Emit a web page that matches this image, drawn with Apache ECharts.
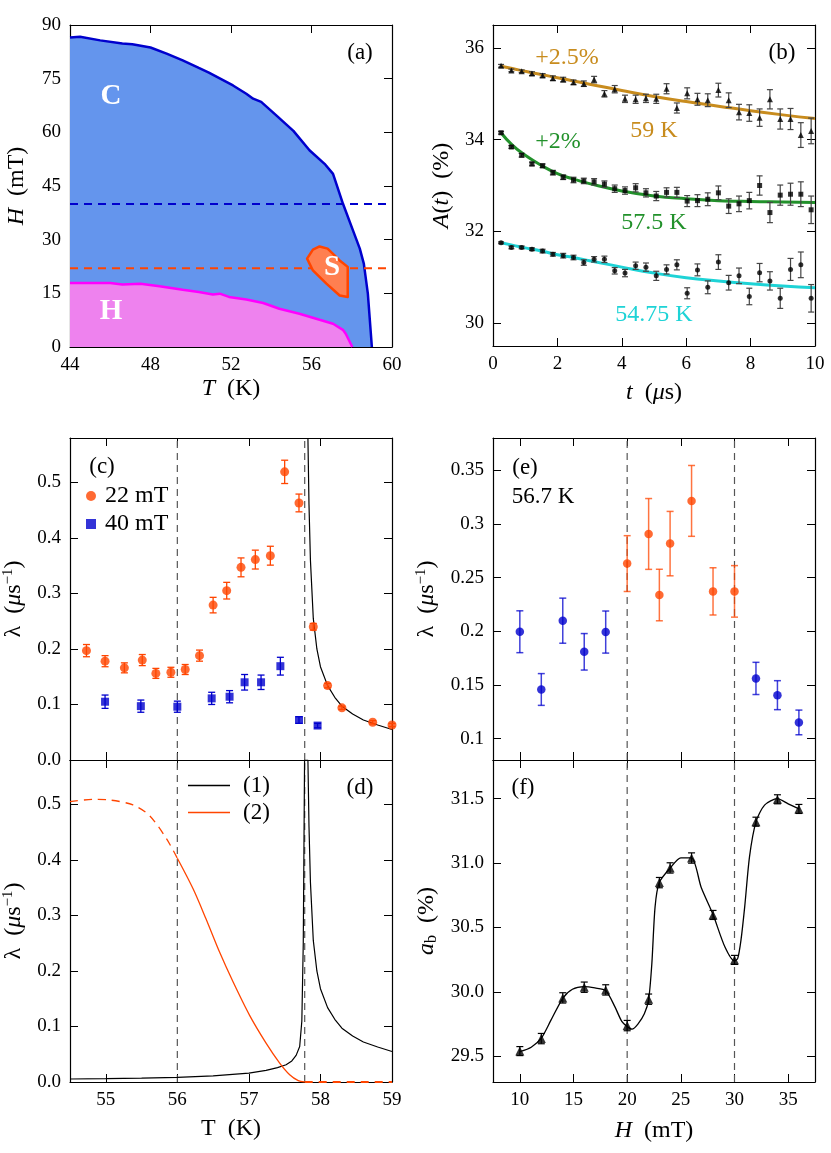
<!DOCTYPE html>
<html>
<head>
<meta charset="utf-8">
<script src="https://cdn.jsdelivr.net/npm/echarts@6.0.0/dist/echarts.min.js"></script>
<style>
  html, body { margin: 0; padding: 0; background: #fff; }
  #chart { width: 831px; height: 1153px; }
</style>
</head>
<body>
<div id="chart"></div>
<script>
// ---- (a) phase diagram ----
const cBoundaryT = [44, 44.5, 45.5, 46.6, 47.1, 48.0, 48.8, 49.6, 50.4, 50.9, 52.1, 52.76, 53.1, 53.5, 54.25, 55.1, 55.9, 56.65, 57.07, 57.56, 58.06, 58.4, 58.6, 58.8, 59.0];
const cBoundaryH = [86.5, 86.7, 85.7, 84.8, 84.6, 83.7, 82.0, 80.1, 78.0, 76.7, 73.1, 70.8, 69.4, 68.5, 64.75, 60.4, 55.0, 51.2, 48.4, 40.1, 32.6, 27.5, 23.3, 14.9, 0];
const hBoundaryT = [44, 46.0, 46.6, 47.5, 48.45, 49.6, 50.4, 51.1, 51.44, 51.9, 52.76, 53.6, 54.4, 55.4, 56.4, 57.07, 57.56, 57.7, 58.03];
const hBoundaryH = [17.9, 17.9, 17.5, 17.7, 17.0, 16.0, 15.4, 14.7, 14.9, 14.0, 13.3, 12.3, 10.7, 9.3, 7.6, 6.5, 4.8, 3.7, 0];
const sPhaseT = [55.78, 56.07, 56.4, 56.8, 57.4, 57.8, 57.8, 57.4, 56.74, 56.07];
const sPhaseH = [24.7, 27.2, 28.1, 27.5, 24.2, 22.4, 14.0, 14.4, 17.7, 21.4];
const scanFields = [40, 22];

// ---- (b) asymmetry spectra ----
const tTimes = [0.25, 0.57, 0.89, 1.21, 1.54, 1.86, 2.18, 2.5, 2.82, 3.14, 3.46, 3.78, 4.1, 4.43, 4.75, 5.07, 5.39, 5.71, 6.03, 6.35, 6.67, 7.0, 7.32, 7.64, 7.96, 8.28, 8.6, 8.92, 9.24, 9.56, 9.88];
const a59 = [35.61, 35.51, 35.49, 35.44, 35.40, 35.34, 35.31, 35.25, 35.22, 35.31, 35.00, 35.10, 34.89, 34.88, 34.90, 34.89, 35.11, 34.69, 35.01, 34.88, 34.86, 35.08, 34.86, 34.60, 34.58, 34.48, 34.88, 34.45, 34.45, 34.10, 34.19];
const e59 = [0.03, 0.03, 0.03, 0.04, 0.04, 0.05, 0.05, 0.05, 0.06, 0.07, 0.07, 0.08, 0.08, 0.09, 0.09, 0.1, 0.11, 0.11, 0.12, 0.13, 0.14, 0.15, 0.16, 0.17, 0.18, 0.19, 0.21, 0.22, 0.23, 0.27, 0.28];
const a575 = [34.15, 33.84, 33.66, 33.47, 33.43, 33.28, 33.18, 33.12, 33.10, 33.08, 33.03, 32.93, 32.89, 32.95, 32.84, 32.77, 32.85, 32.85, 32.66, 32.67, 32.70, 32.84, 32.55, 32.60, 32.67, 33.00, 32.41, 32.79, 32.81, 32.81, 32.47];
const e575 = [0.03, 0.03, 0.04, 0.04, 0.04, 0.05, 0.05, 0.06, 0.06, 0.07, 0.07, 0.08, 0.08, 0.09, 0.09, 0.1, 0.1, 0.11, 0.12, 0.13, 0.14, 0.15, 0.16, 0.17, 0.18, 0.21, 0.22, 0.22, 0.24, 0.27, 0.3];
const a5475 = [31.75, 31.65, 31.65, 31.61, 31.57, 31.50, 31.47, 31.43, 31.32, 31.39, 31.39, 31.14, 31.09, 31.25, 31.22, 31.03, 31.17, 31.27, 30.65, 31.16, 30.78, 31.33, 30.88, 31.03, 30.58, 31.10, 30.92, 30.54, 31.17, 31.27, 30.54];
const e5475 = [0.02, 0.03, 0.03, 0.03, 0.04, 0.04, 0.05, 0.05, 0.06, 0.06, 0.07, 0.07, 0.08, 0.08, 0.09, 0.1, 0.1, 0.11, 0.12, 0.13, 0.14, 0.16, 0.16, 0.17, 0.18, 0.2, 0.2, 0.22, 0.24, 0.28, 0.3];
const fitT = [0.25, 0.6, 1, 1.5, 2, 2.5, 3, 4, 5, 6, 7, 8, 9, 10];
const fit59 = [35.60, 35.55, 35.49, 35.42, 35.35, 35.28, 35.21, 35.07, 34.94, 34.83, 34.73, 34.63, 34.54, 34.46];
const fit575 = [34.15, 33.88, 33.66, 33.44, 33.26, 33.14, 33.04, 32.88, 32.77, 32.71, 32.67, 32.65, 32.64, 32.63];
const fit5475 = [31.75, 31.70, 31.64, 31.57, 31.49, 31.43, 31.36, 31.22, 31.09, 30.99, 30.92, 30.86, 30.81, 30.77];

// ---- (c) relaxation rate vs T ----
const cT22 = [54.73, 54.99, 55.26, 55.51, 55.70, 55.91, 56.11, 56.31, 56.50, 56.69, 56.89, 57.09, 57.30, 57.50, 57.70, 57.90, 58.10, 58.30, 58.73, 59.0];
const cL22 = [0.197, 0.178, 0.166, 0.180, 0.156, 0.158, 0.163, 0.188, 0.279, 0.305, 0.347, 0.361, 0.368, 0.519, 0.463, 0.240, 0.134, 0.094, 0.068, 0.063];
const cE22 = [0.011, 0.01, 0.009, 0.01, 0.009, 0.009, 0.009, 0.01, 0.014, 0.015, 0.017, 0.017, 0.017, 0.021, 0.016, 0.006, 0.004, 0.003, 0.003, 0.003];
const cT40 = [54.99, 55.49, 56.0, 56.48, 56.73, 56.94, 57.17, 57.44, 57.70, 57.96];
const cL40 = [0.105, 0.097, 0.096, 0.111, 0.114, 0.140, 0.140, 0.169, 0.072, 0.062];
const cE40 = [0.012, 0.011, 0.01, 0.011, 0.011, 0.014, 0.013, 0.016, 0.006, 0.004];
const refTemps = [56.0, 57.78];

// ---- (d) model curves ----
const curveLeftT = [54.5, 55, 55.5, 56, 56.5, 57, 57.24, 57.4, 57.52, 57.6, 57.66, 57.71, 57.74, 57.76, 57.778];
const curveLeftL = [0.0054, 0.006, 0.007, 0.0084, 0.011, 0.016, 0.021, 0.026, 0.031, 0.038, 0.048, 0.064, 0.11, 0.25, 0.58];
const curveRightT = [57.825, 57.84, 57.86, 57.9, 57.95, 58.0, 58.1, 58.2, 58.3, 58.45, 58.6, 58.8, 59.0];
const curveRightL = [0.58, 0.46, 0.36, 0.255, 0.2, 0.168, 0.134, 0.113, 0.097, 0.083, 0.072, 0.063, 0.055];
const orangeDashT = [54.5, 54.82, 55.05, 55.38, 55.61, 55.85, 56.0];
const orangeDashL = [0.505, 0.509, 0.508, 0.499, 0.480, 0.438, 0.403];
const orangeSolidT = [56.0, 56.22, 56.40, 56.59, 56.78, 57.01, 57.24, 57.43, 57.57, 57.69, 57.78];
const orangeSolidL = [0.403, 0.348, 0.294, 0.234, 0.180, 0.120, 0.070, 0.034, 0.013, 0.0024, 0];
const orangeZeroT = [57.78, 59];
const orangeZeroL = [0, 0];

// ---- (e) relaxation rate vs H ----
const eHBlue = [10, 12, 14, 16, 18, 32, 34, 36];
const eLBlue = [0.1995, 0.1457, 0.2098, 0.1808, 0.1992, 0.156, 0.1404, 0.115];
const eEBlue = [0.0195, 0.0148, 0.021, 0.017, 0.0196, 0.015, 0.0135, 0.0115];
const eHOrange = [20, 22, 23, 24, 26, 28, 30];
const eLOrange = [0.263, 0.2906, 0.2337, 0.2816, 0.3214, 0.2371, 0.2371];
const eEOrange = [0.026, 0.033, 0.024, 0.030, 0.033, 0.022, 0.024];
const refFields = [20, 30];

// ---- (f) background asymmetry ----
const fH = [10, 12, 14, 16, 18, 20, 22, 23, 24, 26, 28, 30, 32, 34, 36];
const fA = [29.54, 29.637, 29.953, 30.036, 30.015, 29.738, 29.943, 30.848, 30.962, 31.039, 30.597, 30.248, 31.321, 31.495, 31.42];
const fE = [0.035, 0.04, 0.04, 0.04, 0.04, 0.04, 0.04, 0.04, 0.04, 0.04, 0.035, 0.035, 0.035, 0.035, 0.035];
const fCurveH = [10, 11.06, 12, 12.9, 14, 14.9, 16, 17, 18, 18.85, 19.5, 20, 20.45, 21, 21.6, 22, 22.3, 22.6, 23, 24, 25, 26, 26.9, 28, 29.1, 30, 30.3, 30.6, 30.95, 31.4, 32, 32.8, 34, 35, 36];
const fCurveA = [29.535, 29.57, 29.64, 29.78, 29.95, 30.02, 30.04, 30.03, 30.01, 29.885, 29.77, 29.73, 29.71, 29.75, 29.83, 29.94, 30.22, 30.66, 30.85, 30.96, 31.04, 31.04, 30.81, 30.60, 30.35, 30.24, 30.26, 30.40, 30.66, 31.05, 31.32, 31.45, 31.50, 31.46, 31.42];

// ---- ticks ----
const ticksAx = [44, 48, 52, 56, 60], ticksAy = [0, 15, 30, 45, 60, 75, 90];
const ticksBx = [0, 2, 4, 6, 8, 10], ticksBy = [30, 32, 34, 36];
const ticksCDx = [55, 56, 57, 58, 59], ticksCDy = [0, 0.1, 0.2, 0.3, 0.4, 0.5];
const ticksEFx = [10, 15, 20, 25, 30, 35];
const ticksEy = [0.1, 0.15, 0.2, 0.25, 0.3, 0.35], ticksFy = [29.5, 30, 30.5, 31, 31.5];

const FONT = 'Liberation Serif';
const BLUE = '#0000CD', ORANGE = '#FF4500', GOLD = '#C88C1E', GREEN = '#22912B', CYAN = '#1ED3D6';
const SP = '\u2002';
const pts = (xs, ys) => xs.map((x, i) => [x, ys[i]]);

const rich = {
  i: { fontStyle: 'italic', fontFamily: FONT, fontSize: 24 },
  sup: { fontFamily: FONT, fontSize: 15, verticalAlign: 'top' },
  sub: { fontFamily: FONT, fontSize: 16, verticalAlign: 'bottom' }
};

function axes(dir, g, min, max, ticks, fmt, name, gap) {
  const common = {
    type: 'value', gridIndex: g, min: min, max: max,
    axisLine: { show: true, onZero: false, lineStyle: { color: '#000', width: 1.2 } },
    axisTick: { show: true, inside: true, length: 8, customValues: ticks, lineStyle: { color: '#000', width: 1 } },
    splitLine: { show: false }
  };
  const main = Object.assign({}, common, {
    position: dir === 'x' ? 'bottom' : 'left',
    axisLabel: fmt ? { show: true, customValues: ticks, formatter: fmt, margin: 9, color: '#000', fontFamily: FONT, fontSize: 19 } : { show: false },
    name: name || '', nameLocation: 'middle', nameGap: gap || 0,
    nameTextStyle: { fontFamily: FONT, fontSize: 24, color: '#000', lineHeight: 26, rich: rich }
  });
  const mirror = Object.assign({}, common, {
    position: dir === 'x' ? 'top' : 'right',
    axisLabel: { show: false }
  });
  return [main, mirror];
}

const str = v => String(v), fix1 = v => v.toFixed(1);
const lamName = 'λ' + SP + '({i|μ}s{sup|−1})';

const xAxis = [].concat(
  axes('x', 0, 44, 60, ticksAx, str, '{i|T}' + SP + '(K)', 28),
  axes('x', 1, 0, 10, ticksBx, str, '{i|t}' + SP + '({i|μ}s)', 34),
  axes('x', 2, 54.5, 59, ticksCDx, null),
  axes('x', 3, 54.5, 59, ticksCDx, str, 'T' + SP + '(K)', 34),
  axes('x', 4, 7.5, 37.5, ticksEFx, null),
  axes('x', 5, 7.5, 37.5, ticksEFx, str, '{i|H}' + SP + '(mT)', 36)
);
const yAxis = [].concat(
  axes('y', 0, 0, 90, ticksAy, str, '{i|H}' + SP + '(mT)', 40),
  axes('y', 1, 29.5, 36.5, ticksBy, str, '{i|A}({i|t})' + SP + '(%)', 38),
  axes('y', 2, 0, 0.58, ticksCDy, fix1, lamName, 43),
  axes('y', 3, 0, 0.58, ticksCDy, fix1, lamName, 43),
  axes('y', 4, 0.08, 0.38, ticksEy, str, lamName, 53),
  axes('y', 5, 29.3, 31.8, ticksFy, fix1, '{i|a}{sub|b}' + SP + '(%)', 53)
);

function errorBars(g, xs, ys, es, color, cap, width, opacity) {
  return {
    type: 'custom', xAxisIndex: 2 * g, yAxisIndex: 2 * g, silent: true, z: 3,
    data: xs.map((x, i) => [x, ys[i], es[i]]),
    encode: { x: 0, y: 1 },
    renderItem: function (params, api) {
      const x = api.value(0), y = api.value(1), e = api.value(2);
      const lo = api.coord([x, y - e]), hi = api.coord([x, y + e]);
      const st = { stroke: color, lineWidth: width, opacity: opacity || 1 };
      return {
        type: 'group', children: [
          { type: 'line', shape: { x1: lo[0], y1: lo[1], x2: hi[0], y2: hi[1] }, style: st },
          { type: 'line', shape: { x1: lo[0] - cap, y1: lo[1], x2: lo[0] + cap, y2: lo[1] }, style: st },
          { type: 'line', shape: { x1: hi[0] - cap, y1: hi[1], x2: hi[0] + cap, y2: hi[1] }, style: st }
        ]
      };
    }
  };
}
function dots(g, name, xs, ys, symbol, size, color) {
  return { type: 'scatter', name: name, xAxisIndex: 2 * g, yAxisIndex: 2 * g, data: pts(xs, ys),
    symbol: symbol, symbolSize: size, itemStyle: { color: color }, z: 4, silent: true };
}
function curve(g, name, xs, ys, color, width, dash, smooth, extra) {
  return Object.assign({ type: 'line', name: name, xAxisIndex: 2 * g, yAxisIndex: 2 * g, data: pts(xs, ys),
    symbol: 'none', showSymbol: false, smooth: smooth || false, silent: true,
    itemStyle: { color: color },
    lineStyle: { color: color, width: width, type: dash || 'solid' }, z: 2 }, extra || {});
}
function vLines(g, xs, yMin, yMax) {
  return xs.map(x => curve(g, '', [x, x], [yMin, yMax], '#555', 1.2, [7, 5]));
}

const series = [
  // (a)
  curve(0, 'C', cBoundaryT, cBoundaryH, BLUE, 2.5, null, false, { areaStyle: { color: '#6495ED', opacity: 1, origin: 'start' }, z: 1 }),
  curve(0, 'Hph', hBoundaryT, hBoundaryH, '#FF00FF', 2.5, null, false, { areaStyle: { color: '#EE82EE', opacity: 1, origin: 'start' }, z: 1 }),
  curve(0, '', [44, 60], [scanFields[0], scanFields[0]], BLUE, 2, [8, 6]),
  curve(0, '', [44, 60], [scanFields[1], scanFields[1]], ORANGE, 2, [8, 6]),
  {
    type: 'custom', xAxisIndex: 0, yAxisIndex: 0, silent: true, z: 3,
    data: [[sPhaseT[0], sPhaseH[0]]], encode: { x: 0, y: 1 },
    renderItem: function (params, api) {
      return { type: 'polygon', shape: { points: sPhaseT.map((t, i) => api.coord([t, sPhaseH[i]])) },
        style: { fill: '#FF7F50', stroke: ORANGE, lineWidth: 2.5, lineJoin: 'round' } };
    }
  },
  // (b)
  curve(1, '', fitT, fit59, GOLD, 3, null, true),
  curve(1, '', fitT, fit575, GREEN, 3, null, true),
  curve(1, '', fitT, fit5475, CYAN, 3, null, true),
  errorBars(1, tTimes, a59, e59, '#444', 3, 1.2),
  errorBars(1, tTimes, a575, e575, '#444', 3, 1.2),
  errorBars(1, tTimes, a5475, e5475, '#444', 3, 1.2),
  dots(1, '', tTimes, a59, 'triangle', 6, '#000'),
  dots(1, '', tTimes, a575, 'rect', 5, '#000'),
  dots(1, '', tTimes, a5475, 'circle', 5, '#000'),
  // (c)
  ...vLines(2, refTemps, 0, 0.58),
  curve(2, 'fit', curveRightT, curveRightL, '#000', 1.2),
  errorBars(2, cT22, cL22, cE22, ORANGE, 3.5, 1.3),
  errorBars(2, cT40, cL40, cE40, BLUE, 3.5, 1.3),
  dots(2, '22 mT', cT22, cL22, 'circle', 9, ORANGE),
  dots(2, '40 mT', cT40, cL40, 'rect', 8, BLUE),
  // (d)
  ...vLines(3, refTemps, 0, 0.58),
  curve(3, '(1)', curveLeftT.concat(curveRightT), curveLeftL.concat(curveRightL), '#000', 1.2),
  curve(3, 'o-dash', orangeDashT, orangeDashL, ORANGE, 1.3, [8, 6], 0.3),
  curve(3, '(2)', orangeSolidT, orangeSolidL, ORANGE, 1.3, null, 0.3),
  curve(3, 'o-zero', orangeZeroT, orangeZeroL, ORANGE, 1.8, [8, 6], false, { clip: false, z: 5 }),
  // (e)
  ...vLines(4, refFields, 0.08, 0.38),
  errorBars(4, eHBlue, eLBlue, eEBlue, BLUE, 3.5, 1.5, 0.75),
  errorBars(4, eHOrange, eLOrange, eEOrange, ORANGE, 3.5, 1.5, 0.75),
  dots(4, '', eHBlue, eLBlue, 'circle', 8.5, BLUE),
  dots(4, '', eHOrange, eLOrange, 'circle', 8.5, ORANGE),
  // (f)
  ...vLines(5, refFields, 29.3, 31.8),
  curve(5, '', fCurveH, fCurveA, '#000', 1.3, null, 0.25),
  errorBars(5, fH, fA, fE, '#000', 3.5, 1.2),
  dots(5, '', fH, fA, 'triangle', 9, '#000')
];

function txt(x, y, text, size, color, weight) {
  return { type: 'text', x: x, y: y, z: 100, silent: true,
    style: { text: text, font: (weight || 'normal') + ' ' + size + 'px "' + FONT + '"', fill: color || '#000', align: 'center', verticalAlign: 'middle' } };
}

const option = {
  animation: false,
  backgroundColor: '#fff',
  textStyle: { fontFamily: FONT },
  grid: [
    { left: 70, top: 25, width: 322, height: 322 },
    { left: 493, top: 25, width: 322, height: 321 },
    { left: 70, top: 438, width: 322, height: 322 },
    { left: 70, top: 760, width: 322, height: 322 },
    { left: 493, top: 438, width: 322, height: 322 },
    { left: 493, top: 760, width: 322, height: 322 }
  ],
  xAxis: xAxis,
  yAxis: yAxis,
  legend: [
    { data: ['22 mT', '40 mT'], orient: 'vertical', left: 86, top: 484, padding: 0, itemGap: 4,
      itemWidth: 10, itemHeight: 10, textStyle: { fontFamily: FONT, fontSize: 24, color: '#000', padding: [0, 0, 0, 4] } },
    { data: ['(1)', '(2)'], orient: 'vertical', left: 188, top: 774, padding: 0, itemGap: 4, icon: 'rect',
      itemWidth: 42, itemHeight: 1.5, textStyle: { fontFamily: FONT, fontSize: 23, color: '#000', padding: [0, 0, 0, 8] } }
  ],
  series: series,
  graphic: { elements: [
    txt(360, 53, '(a)', 23),
    txt(111, 97, 'C', 29, '#fff', 'bold'),
    txt(111, 312, 'H', 29, '#fff', 'bold'),
    txt(332, 268, 'S', 29, '#fff', 'bold'),
    txt(782, 53, '(b)', 23),
    txt(567, 58, '+2.5%', 24, GOLD),
    txt(654, 131, '59 K', 24, GOLD),
    txt(558, 142, '+2%', 24, GREEN),
    txt(654, 223, '57.5 K', 24, GREEN),
    txt(654, 315, '54.75 K', 24, CYAN),
    txt(102, 467, '(c)', 23),
    txt(360, 788, '(d)', 23),
    txt(525, 468, '(e)', 23),
    txt(543, 497, '56.7 K', 23),
    txt(523, 788, '(f)', 23)
  ] }
};

const chart = echarts.init(document.getElementById('chart'));
chart.setOption(option);
</script>
</body>
</html>
